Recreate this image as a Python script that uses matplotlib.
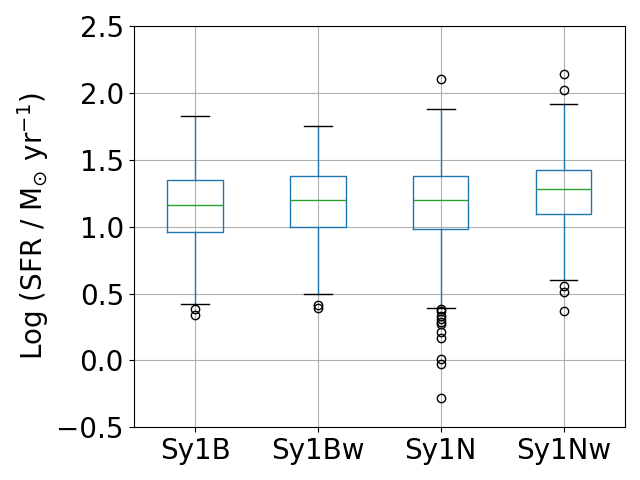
import matplotlib
matplotlib.use('Agg')
import matplotlib.pyplot as plt

# classes and box statistics
labels = ['Sy1B', 'Sy1Bw', 'Sy1N', 'Sy1Nw']
whislo = [0.418, 0.493, 0.395, 0.598]
q1 = [0.963, 1.0, 0.985, 1.092]
med = [1.165, 1.197, 1.202, 1.279]
q3 = [1.352, 1.382, 1.375, 1.427]
whishi = [1.826, 1.751, 1.876, 1.916]
fliers = [
    [0.386, 0.338],
    [0.415, 0.393],
    [2.101, 0.386, 0.37, 0.33, 0.31, 0.29, 0.27, 0.21, 0.17, 0.011, -0.024, -0.281],
    [2.14, 2.019, 0.555, 0.515, 0.373],
]

stats = []
for i in range(len(labels)):
    stats.append(dict(label=labels[i], whislo=whislo[i], q1=q1[i], med=med[i],
                      q3=q3[i], whishi=whishi[i], fliers=fliers[i]))

fig, ax = plt.subplots(figsize=(6.4, 4.8), dpi=100)
ax.bxp(stats,
       boxprops=dict(color='C0'),
       whiskerprops=dict(color='C0'),
       capprops=dict(color='black'),
       medianprops=dict(color='C2'),
       flierprops=dict(marker='o', markerfacecolor='none', markeredgecolor='black', markersize=6))
ax.grid(True)
ax.set_axisbelow(True)
ax.set_ylim(-0.5, 2.5)
ax.set_ylabel(r'Log (SFR / M$_{\odot}$ yr$^{-1}$)', fontsize=20)
ax.tick_params(labelsize=20)
fig.tight_layout()
fig.savefig('out.png')
